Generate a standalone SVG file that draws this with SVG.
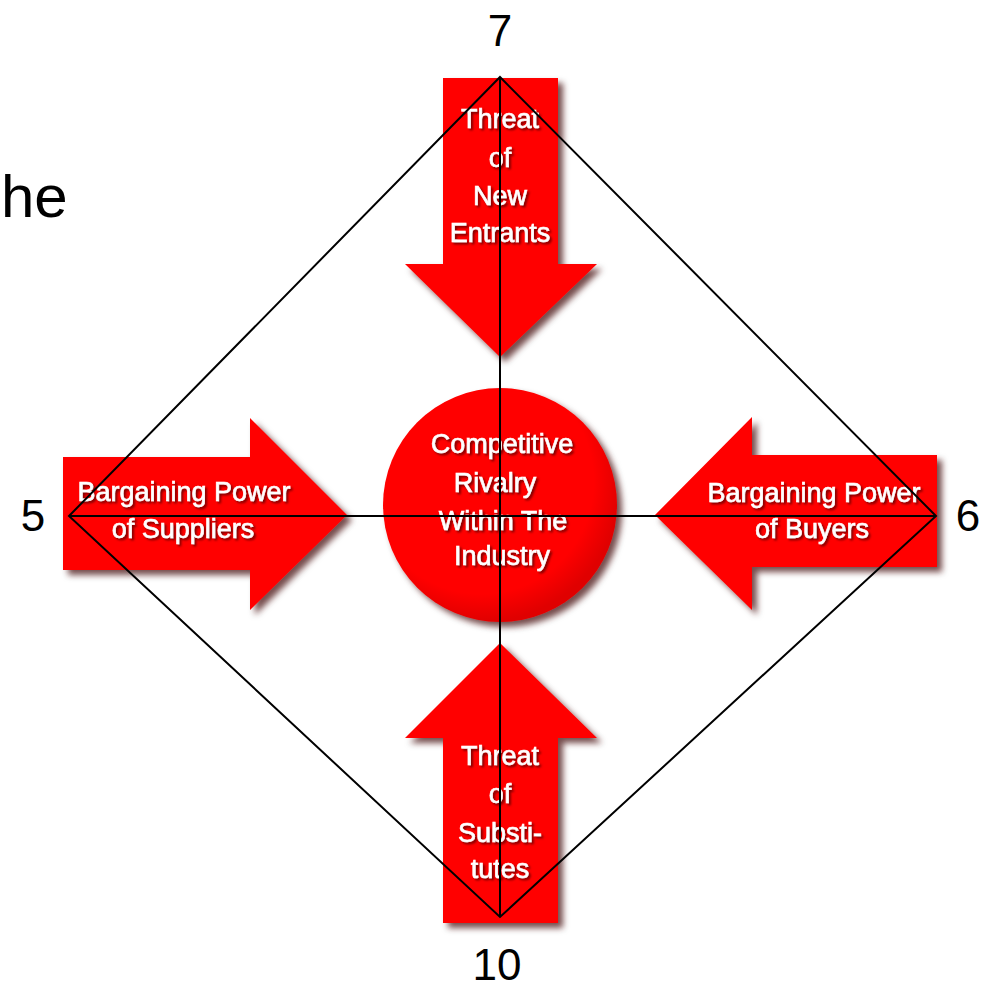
<svg xmlns="http://www.w3.org/2000/svg" width="992" height="989" viewBox="0 0 992 989">
<style>
.arrow{fill:#ff0000;filter:url(#sh)}
.lbl{font-family:"Liberation Sans",Arial,sans-serif;font-size:27px;fill:#ffffff;stroke:#ffffff;stroke-width:0.6;text-anchor:middle;filter:url(#tsh)}
.num{font-family:"Liberation Sans",Arial,sans-serif;font-size:44px;fill:#000;text-anchor:middle}
.ln{stroke:#000;stroke-width:2;fill:none}
</style>
<defs>
<filter id="sh" x="-20%" y="-20%" width="140%" height="140%">
<feDropShadow dx="5" dy="5" stdDeviation="3" flood-color="#3a0000" flood-opacity="0.7"/>
</filter>
<filter id="tsh" x="-20%" y="-30%" width="140%" height="160%">
<feDropShadow dx="2" dy="2" stdDeviation="1.2" flood-color="#700000" flood-opacity="0.9"/>
</filter>
<radialGradient id="cg" cx="0.42" cy="0.4" r="0.6">
<stop offset="0.8" stop-color="#ff0000"/>
<stop offset="1" stop-color="#e00000"/>
</radialGradient>
</defs>
<text x="1" y="217" font-family="Liberation Sans,Arial,sans-serif" font-size="60" fill="#000">he</text>
<g id="top">
<polygon class="arrow" points="443,78 558,78 558,264 597,264 500,357 405,264 443,264"/>
<text class="lbl"><tspan x="500" y="128">Threat</tspan><tspan x="500" y="167">of</tspan><tspan x="500" y="205">New</tspan><tspan x="500" y="242">Entrants</tspan></text>
</g>
<g id="left">
<polygon class="arrow" points="63,457 250,457 250,418 347,515 250,610 250,570 63,570"/>
<text class="lbl"><tspan x="184" y="501">Bargaining Power</tspan><tspan x="183" y="538">of Suppliers</tspan></text>
</g>
<g id="right">
<polygon class="arrow" points="937,455 752,455 752,417 655,515 752,610 752,567 937,567"/>
<text class="lbl"><tspan x="814" y="502">Bargaining Power</tspan><tspan x="812" y="538">of Buyers</tspan></text>
</g>
<g id="bottom">
<polygon class="arrow" points="500,643 597,738 558,738 558,923 443,923 443,738 405,738"/>
<text class="lbl"><tspan x="500" y="765">Threat</tspan><tspan x="500" y="803">of</tspan><tspan x="500" y="842">Substi-</tspan><tspan x="500" y="878">tutes</tspan></text>
</g>
<g id="center">
<circle cx="500" cy="505" r="117" fill="url(#cg)" filter="url(#sh)"/>
<text class="lbl"><tspan x="502" y="453">Competitive</tspan><tspan x="495" y="492">Rivalry</tspan><tspan x="503" y="530">Within The</tspan><tspan x="502" y="565">Industry</tspan></text>
</g>
<g id="connectors">
<polygon class="ln" points="500,77 936,516 500,917 69,516"/>
<line class="ln" x1="500" y1="77" x2="500" y2="917"/>
<line class="ln" x1="69" y1="516" x2="936" y2="516"/>
</g>
<g id="labels">
<text class="num" x="500" y="46">7</text>
<text class="num" x="33" y="531">5</text>
<text class="num" x="968" y="531">6</text>
<text class="num" x="497" y="980">10</text>
</g>
</svg>
